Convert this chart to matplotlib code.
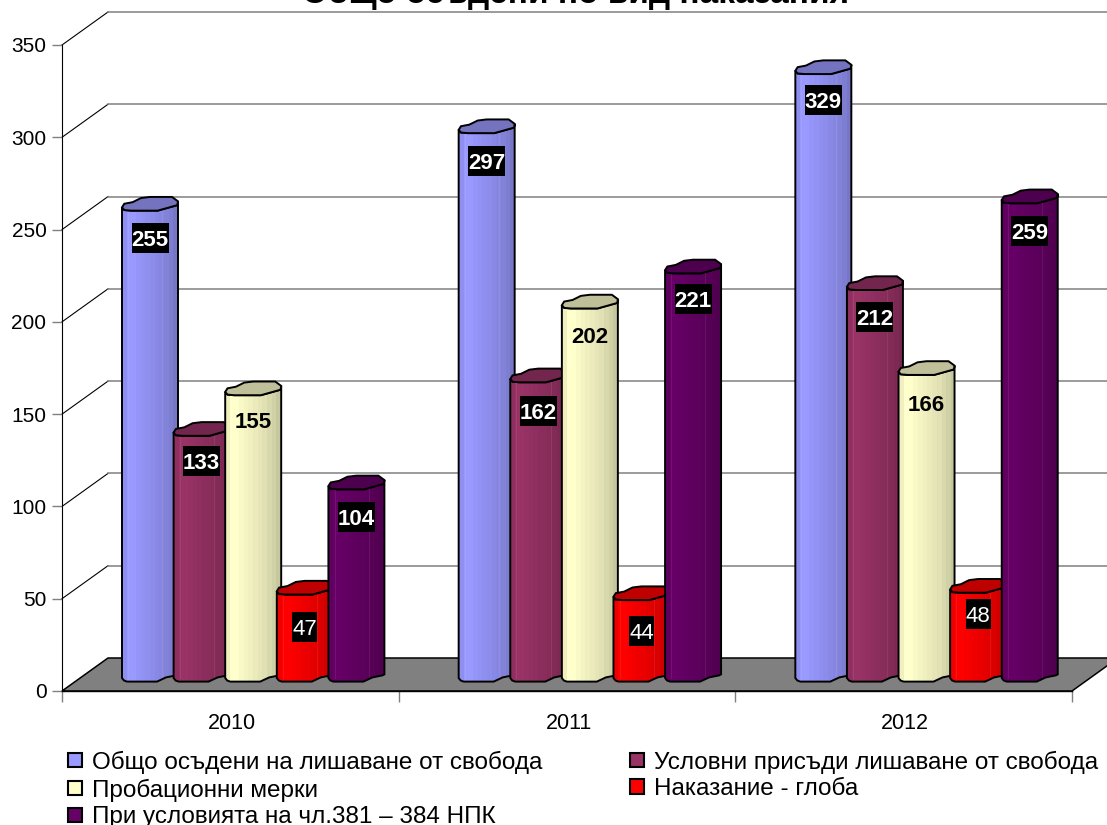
import numpy as np
import matplotlib
matplotlib.use('Agg')
import matplotlib.pyplot as plt
from matplotlib.patches import Polygon, Rectangle, Patch
from matplotlib.colors import to_rgb

plt.rcParams['font.family'] = ['Liberation Sans', 'DejaVu Sans']

years = ['2010', '2011', '2012']
series = ['Общо осъдени на лишаване от свобода',
          'Условни присъди лишаване от свобода',
          'Пробационни мерки',
          'Наказание - глоба',
          'При условията на чл.381 – 384 НПК']
total_prison = [255, 297, 329]
suspended = [133, 162, 212]
probation = [155, 202, 166]
fine = [47, 44, 48]
art381 = [104, 221, 259]
all_values = [total_prison, suspended, probation, fine, art381]
colors = ['#9999FF', '#993366', '#FFFFCC', '#FF0000', '#660066']
y_ticks = [0, 50, 100, 150, 200, 250, 300, 350]

W, H = 1107, 825
L, R, Y0, Y350 = 62, 1072, 691, 45
DX, DY = 46, 33
PXC = (R - L) / 3          # px per category
PXV = (Y0 - Y350) / 350    # px per value unit

fig = plt.figure(figsize=(W / 100, H / 100), dpi=100, facecolor='white')
ax = fig.add_axes([L / W, 1 - Y0 / H, (R - L) / W, (Y0 - Y350) / H])
ax.set_facecolor('none')

def ux(p): return p / PXC
def uy(p): return p / PXV

# walls and floor
xback = 3 + ux(DX)
ax.add_patch(Polygon([(0, 0), (ux(DX), uy(DY)), (xback, uy(DY)), (3, 0)],
                     closed=True, fc='#808080', ec='black', lw=1.1, zorder=2, clip_on=False))
for v in y_ticks[1:]:
    ax.plot([0, ux(DX)], [v, v + uy(DY)], color='black', lw=0.8, zorder=1, clip_on=False)
    ax.plot([ux(DX), xback], [v + uy(DY)] * 2, color='#808080', lw=1.1, zorder=1, clip_on=False)

# cylinders
lid = np.array([(0, 0), (2.3, -3.6), (10.7, -5.2), (19, -9.3), (28, -10.4), (50, -10.4), (56, -6),
                (55.3, -2.2), (35.7, 3.3), (9, 3.3), (2.3, 2.7)])
bottom = [(0, 0), (2, 2.5), (5, 3.6), (35, 3.6), (44, -0.6), (54, -2.6), (56, -3.6)]
lid_front = [(56, -6), (55.3, -2.2), (35.7, 3.3), (9, 3.3), (2.3, 2.7), (0, 0)]
shade = [0.94, 1, 1, 0.98, 0.96, 0.94, 0.92, 0.90, 0.88, 0.85, 0.82, 0.78]
label_offset = [[31, 28, 28, 36, 31], [31, 32, 30, 34, 29], [29, 30, 31, 25, 31]]
OFF0, STEP, BW, BASE = 60, 51.6, 56, 13

z = 10
for c in range(3):
    for s, vals in enumerate(all_values):
        v = vals[c]
        col = np.array(to_rgb(colors[s]))
        x0 = c + ux(OFF0 + s * STEP)
        yb = uy(BASE)
        yt = yb + v
        body = [(x0 + ux(a), yb - uy(b)) for a, b in bottom] + \
               [(x0 + ux(a), yt - uy(b)) for a, b in lid_front]
        clip = Polygon(body, closed=True, fc='none', ec='none', zorder=z)
        ax.add_patch(clip)
        img = np.array([[col * f for f in shade]])
        im = ax.imshow(img, extent=[x0, x0 + ux(BW), 0, yt + uy(12)], aspect='auto',
                       interpolation='nearest', zorder=z + 0.1)
        im.set_clip_path(clip)
        for frac in (0.11, 0.72):
            ln, = ax.plot([x0 + ux(BW) * frac] * 2, [yb, yt], color=(1, 1, 1), alpha=0.08,
                          lw=0.7, zorder=z + 0.2)
            ln.set_clip_path(clip)
        ax.add_patch(Polygon(body, closed=True, fc='none', ec='black', lw=1.4, zorder=z + 0.3))
        ax.add_patch(Polygon([(x0 + ux(a), yt - uy(b)) for a, b in lid], closed=True,
                             fc=col * 0.75, ec='black', lw=1.4, zorder=z + 0.4))
        z += 1

# data labels on top of every bar
for c in range(3):
    for s, vals in enumerate(all_values):
        v = vals[c]
        xc = c + ux(OFF0 + s * STEP + BW / 2)
        yc = uy(BASE) + v - uy(label_offset[c][s])
        txt = str(v)
        if s != 2:
            w = len(txt) * 12 + 1
            ax.add_patch(Rectangle((xc - ux(w / 2), yc - uy(15)), ux(w), uy(30), fc='black',
                                   ec='none', zorder=100))
        ax.text(xc, yc, txt, ha='center', va='center_baseline', fontsize=16, zorder=101,
                color='black' if s == 2 else 'white',
                fontweight='normal' if s == 3 else 'bold')

ax.set_xlim(0, 3)
ax.set_ylim(0, 350)
for sp in ('top', 'right'):
    ax.spines[sp].set_visible(False)
ax.spines['left'].set_linewidth(0.8)
ax.spines['bottom'].set_linewidth(1.0)
ax.spines['left'].set_zorder(3)
ax.spines['bottom'].set_zorder(3)
ax.set_yticks(y_ticks)
ax.tick_params(axis='y', length=7.2, width=1.0, color='#808080', labelsize=15, pad=4)
ax.set_xticks([0, 1, 2, 3])
ax.set_xticklabels([])
ax.tick_params(axis='x', which='major', length=7.6, width=1.0, color='#808080')
ax.set_xticks([0.505, 1.505, 2.505], minor=True)
ax.set_xticklabels(years, minor=True)
ax.tick_params(axis='x', which='minor', length=0, labelsize=15.5, pad=16)

fig.text(576 / W, 1 - 3 / H, 'Общо осъдени по вид наказания', ha='center', va='baseline',
         fontsize=24, fontweight='bold')

order = [0, 2, 4, 1, 3]
handles = [Patch(fc=colors[i], ec='black', lw=1.5) for i in order]
fig.legend(handles, [series[i] for i in order], ncols=2, frameon=False, fontsize=17.5,
           loc='lower left', bbox_to_anchor=(68 / W, 1 - 828.5 / H), borderpad=0, borderaxespad=0,
           handlelength=0.56, handleheight=0.56, handletextpad=0.42, columnspacing=3.62,
           labelspacing=0.2)

fig.savefig('out.png', dpi=100, facecolor='white')
